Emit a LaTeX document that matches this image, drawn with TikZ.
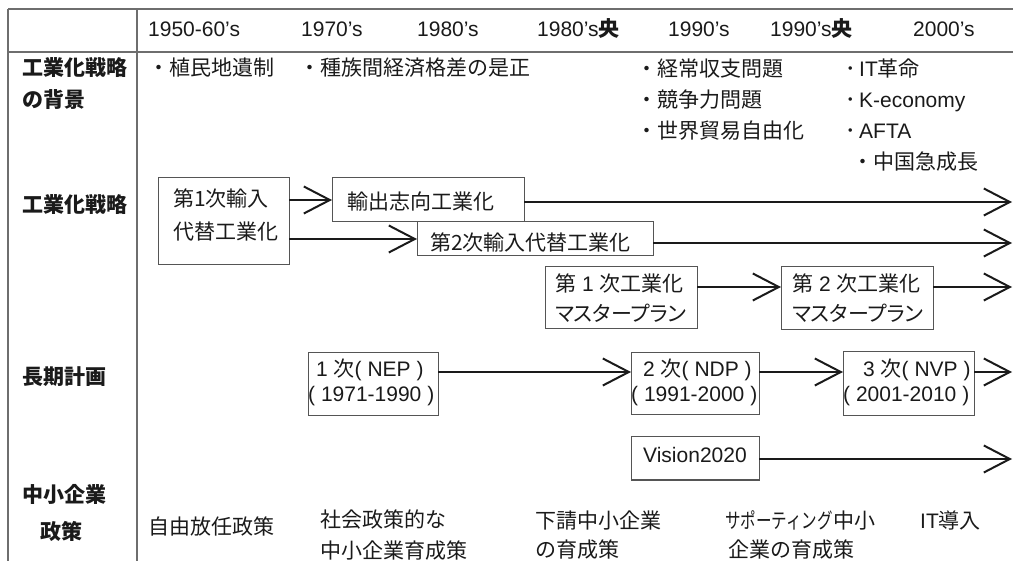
\documentclass[tikz,border=0pt]{standalone}
\usepackage{fontspec}
\setmainfont{Liberation Sans}
\newfontfamily\jp{Noto Sans CJK JP}
\newfontfamily\jpp[RawFeature=+palt]{Noto Sans CJK JP}
\newfontfamily\jpn[FakeStretch=0.74]{Noto Sans CJK JP}
\usetikzlibrary{arrows.meta}
\definecolor{ink}{HTML}{1A1A1A}
\definecolor{framec}{HTML}{6E6E6E}
\definecolor{boxc}{HTML}{555555}
\newcommand\jt[1]{{\jp #1}}
\begin{document}
\begin{tikzpicture}[x=1pt,y=-1pt,
  txt/.style={anchor=base west, inner sep=0pt, text=ink, font=\fontsize{21}{24}\selectfont},
  lbl/.style={anchor=base west, inner sep=0pt, text=ink, font=\fontsize{21}{24}\selectfont\jp\bfseries},
  framel/.style={draw=framec, line width=1.5pt},
  tbox/.style={draw=boxc, line width=1pt, anchor=north west, inner sep=0pt, outer sep=0pt},
  conn/.style={draw=ink, line width=2pt, -{Straight Barb[length=26pt,width=27pt]}}]
\useasboundingbox (0,0) rectangle (1013,561);
% frame
\draw[framel] (8,9) -- (1013,9);
\draw[framel] (8,52) -- (1013,52);
\draw[framel] (8,9) -- (8,561);
\draw[framel] (137,9) -- (137,561);
% header
\node[txt] (h1) at (148,37) {1950-60’s};
\node[txt] (h2) at (301,37) {1970’s};
\node[txt] (h3) at (417,37) {1980’s};
\node[txt] (h4) at (537,37) {1980’s\jt{\bfseries 央}};
\node[txt] (h5) at (668,37) {1990’s};
\node[txt] (h6) at (770,37) {1990’s\jt{\bfseries 央}};
\node[txt] (h7) at (913,37) {2000’s};
% row labels
\node[lbl] (l1a) at (22,76) {工業化戦略};
\node[lbl] (l1b) at (22,108) {の背景};
\node[lbl] (l2) at (22,213) {工業化戦略};
\node[lbl] (l3) at (22,385) {長期計画};
\node[lbl] (l4a) at (22,502) {中小企業};
\node[lbl] (l4b) at (40,539) {政策};
% background row
\node[txt] (bg1) at (148,76) {\jt{・植民地遺制}};
\node[txt] (bg2) at (299,76) {\jt{・種族間経済格差の是正}};
\node[txt] (bg3) at (636,77) {\jt{・経常収支問題}};
\node[txt] (bg4) at (636,108) {\jt{・競争力問題}};
\node[txt] (bg5) at (636,139) {\jt{・世界貿易自由化}};
\node[txt] (bg6) at (845,77) {\jt{･}\,IT\jt{革命}};
\node[txt] (bg7) at (845,108) {\jt{･}\,K-economy};
\node[txt] (bg8) at (845,139) {\jt{･}\,AFTA};
\node[txt] (bg9) at (852,170) {\jt{・中国急成長}};
% strategy boxes
\node[tbox, minimum width=131pt, minimum height=87pt] (b1) at (158,178) {};
\node[txt] (b1a) at (173,207) {\jt{第1次輸入}};
\node[txt] (b1b) at (173,240) {\jt{代替工業化}};
\node[tbox, minimum width=192pt, minimum height=44pt] (exp) at (332,178) {};
\node[txt] (expt) at (347,210) {\jt{輸出志向工業化}};
\node[tbox, minimum width=236pt, minimum height=34pt] (s2) at (417,222) {};
\node[txt] (s2t) at (430,251) {\jt{第2次輸入代替工業化}};
\node[tbox, minimum width=152pt, minimum height=62pt] (m1) at (545,267) {};
\node[txt] (m1a) at (555,292) {\jt{第} 1 \jt{次工業化}};
\node[txt] (m1b) at (555,322) {{\jpp マスタープラン}};
\node[tbox, minimum width=152pt, minimum height=63pt] (m2) at (781,267) {};
\node[txt] (m2a) at (792,292) {\jt{第} 2 \jt{次工業化}};
\node[txt] (m2b) at (792,322) {{\jpp マスタープラン}};
% plan boxes
\node[tbox, minimum width=130pt, minimum height=63pt] (nep) at (308,353) {};
\node[txt] (nepa) at (316,377) {1 \jt{次}( NEP )};
\node[txt] (nepb) at (308,402) {( 1971-1990 )};
\node[tbox, minimum width=128pt, minimum height=62pt] (ndp) at (631,353) {};
\node[txt] (ndpa) at (643,377) {2 \jt{次}( NDP )};
\node[txt] (ndpb) at (631,402) {( 1991-2000 )};
\node[tbox, minimum width=131pt, minimum height=64pt] (nvp) at (843,352) {};
\node[txt] (nvpa) at (863,377) {3 \jt{次}( NVP )};
\node[txt] (nvpb) at (843,402) {( 2001-2010 )};
\node[tbox, minimum width=128pt, minimum height=43pt] (vis) at (631,437) {};
\node[txt] (vist) at (643,463) {Vision2020};
% SME policy row
\node[txt] (p1) at (148,534) {\jt{自由放任政策}};
\node[txt] (p2a) at (320,527) {\jt{社会政策的な}};
\node[txt] (p2b) at (320,558) {\jt{中小企業育成策}};
\node[txt] (p3a) at (535,528) {\jt{下請中小企業}};
\node[txt] (p3b) at (535,557) {\jt{の育成策}};
\node[txt] (p4a) at (725,528) {{\jpn サポーティング}\jt{中小}};
\node[txt] (p4b) at (728,557) {\jt{企業の育成策}};
\node[txt] (p5) at (920,528) {IT\jt{導入}};
% free ends
\coordinate (e1) at (1012,202);
\coordinate (e2) at (1012,243);
\coordinate (e3) at (1012,287);
\coordinate (e4) at (1012,372);
\coordinate (e5) at (1012,459);
% connectors
\draw[conn] (b1.east |- exp.west) -- (exp.west);
\draw[conn] (b1.east |- s2.west) -- (s2.west);
\draw[conn] (exp.east |- e1) -- (e1);
\draw[conn] (s2.east |- e2) -- (e2);
\draw[conn] (m1.east |- e3) -- (m2.west |- e3);
\draw[conn] (m2.east |- e3) -- (e3);
\draw[conn] (nep.east |- e4) -- (ndp.west |- e4);
\draw[conn] (ndp.east |- e4) -- (nvp.west |- e4);
\draw[conn] (nvp.east |- e4) -- (e4);
\draw[conn] (vis.east |- e5) -- (e5);
\end{tikzpicture}
\end{document}
